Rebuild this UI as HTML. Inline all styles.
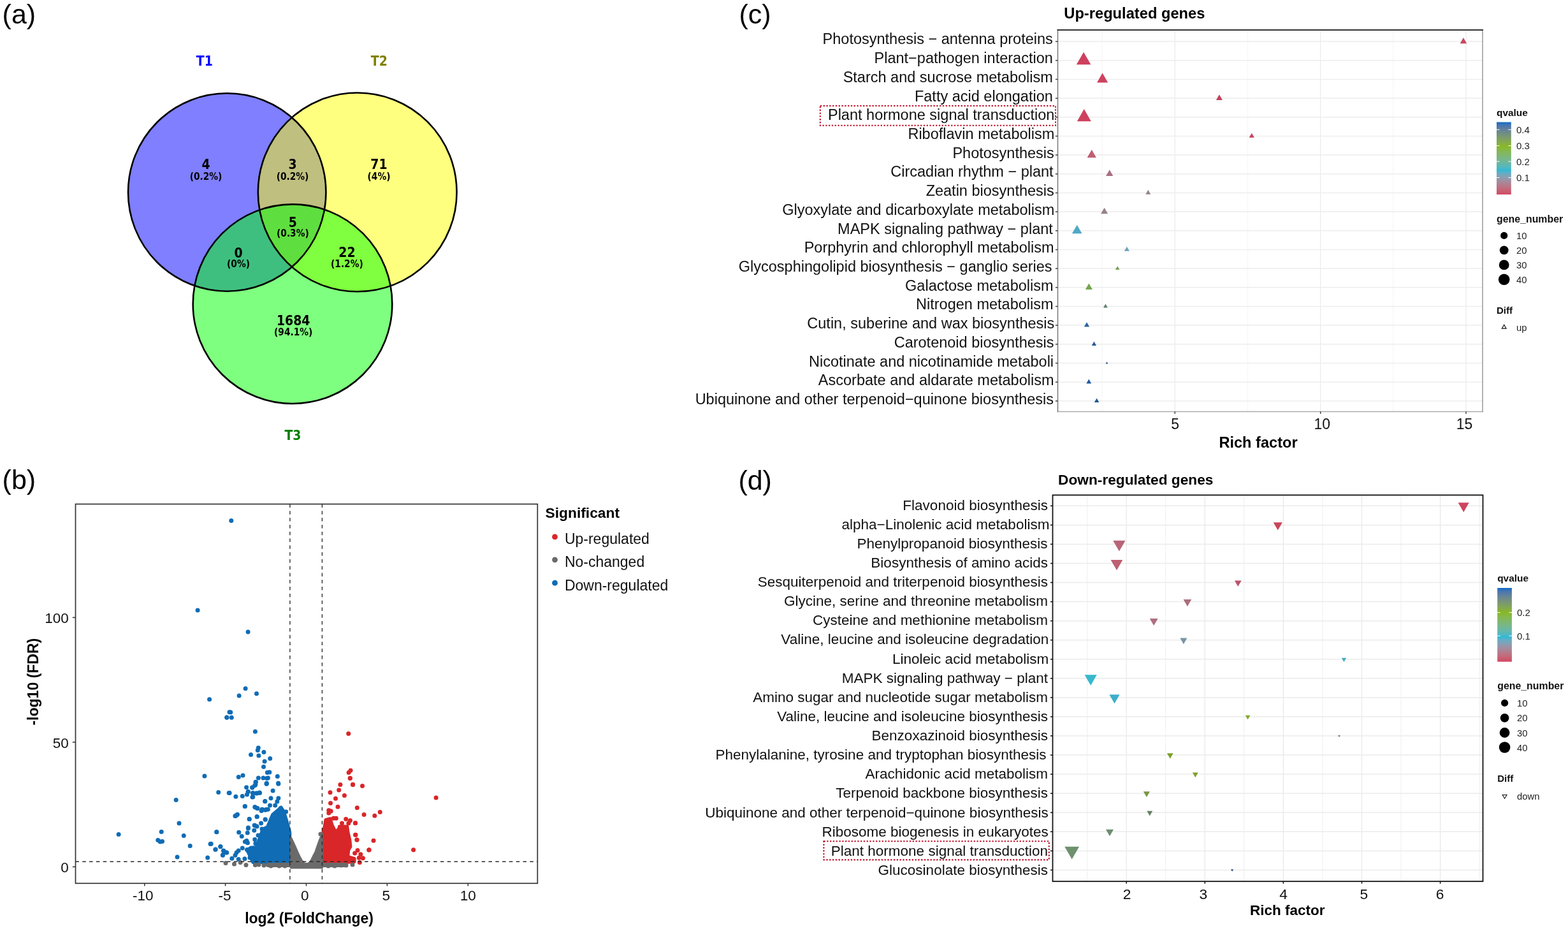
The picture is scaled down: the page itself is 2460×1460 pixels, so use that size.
<!DOCTYPE html><html><head><meta charset="utf-8"><title>Figure</title><style>html,body{margin:0;padding:0;background:#fff;overflow:hidden;width:2460px;height:1460px;}svg{display:block;}</style></head><body>
<svg width="2460" height="1460" viewBox="0 0 2460 1460">
<rect x="0" y="0" width="2460" height="1460" fill="#fff"/>
<text x="3.6" y="37.3" font-size="43" text-anchor="start" font-weight="normal" fill="#000" font-family="'Liberation Sans', Arial, Helvetica, sans-serif" >(a)</text>
<text x="3.6" y="766.9" font-size="43" text-anchor="start" font-weight="normal" fill="#000" font-family="'Liberation Sans', Arial, Helvetica, sans-serif" >(b)</text>
<text x="1159.5" y="37.3" font-size="43" text-anchor="start" font-weight="normal" fill="#000" font-family="'Liberation Sans', Arial, Helvetica, sans-serif" >(c)</text>
<text x="1158.4" y="767.8" font-size="43" text-anchor="start" font-weight="normal" fill="#000" font-family="'Liberation Sans', Arial, Helvetica, sans-serif" >(d)</text>
<circle cx="356.2" cy="301.5" r="155.2" fill="#0000ff" fill-opacity="0.5"/>
<circle cx="560.7" cy="301.4" r="155.9" fill="#ffff00" fill-opacity="0.5"/>
<circle cx="459.0" cy="476.7" r="156.3" fill="#00ff00" fill-opacity="0.5"/>
<circle cx="356.2" cy="301.5" r="155.2" fill="none" stroke="#000" stroke-width="2.6"/>
<circle cx="560.7" cy="301.4" r="155.9" fill="none" stroke="#000" stroke-width="2.6"/>
<circle cx="459.0" cy="476.7" r="156.3" fill="none" stroke="#000" stroke-width="2.6"/>
<text x="320.8" y="102.5" font-size="21" text-anchor="middle" font-weight="bold" fill="#0000ff" font-family="'DejaVu Sans Condensed', 'DejaVu Sans', sans-serif" >T1</text>
<text x="594.8" y="102.5" font-size="21" text-anchor="middle" font-weight="bold" fill="#808000" font-family="'DejaVu Sans Condensed', 'DejaVu Sans', sans-serif" >T2</text>
<text x="459.5" y="690.0" font-size="21" text-anchor="middle" font-weight="bold" fill="#008000" font-family="'DejaVu Sans Condensed', 'DejaVu Sans', sans-serif" >T3</text>
<text x="323.0" y="264.6" font-size="21" text-anchor="middle" font-weight="bold" fill="#000" font-family="'DejaVu Sans Condensed', 'DejaVu Sans', sans-serif" >4</text>
<text x="323.0" y="281.7" font-size="15.3" text-anchor="middle" font-weight="bold" fill="#000" font-family="'DejaVu Sans Condensed', 'DejaVu Sans', sans-serif" >(0.2%)</text>
<text x="459.0" y="264.6" font-size="21" text-anchor="middle" font-weight="bold" fill="#000" font-family="'DejaVu Sans Condensed', 'DejaVu Sans', sans-serif" >3</text>
<text x="459.0" y="281.7" font-size="15.3" text-anchor="middle" font-weight="bold" fill="#000" font-family="'DejaVu Sans Condensed', 'DejaVu Sans', sans-serif" >(0.2%)</text>
<text x="594.5" y="264.6" font-size="21" text-anchor="middle" font-weight="bold" fill="#000" font-family="'DejaVu Sans Condensed', 'DejaVu Sans', sans-serif" >71</text>
<text x="594.5" y="281.7" font-size="15.3" text-anchor="middle" font-weight="bold" fill="#000" font-family="'DejaVu Sans Condensed', 'DejaVu Sans', sans-serif" >(4%)</text>
<text x="459.4" y="355.9" font-size="21" text-anchor="middle" font-weight="bold" fill="#000" font-family="'DejaVu Sans Condensed', 'DejaVu Sans', sans-serif" >5</text>
<text x="459.4" y="371.4" font-size="15.3" text-anchor="middle" font-weight="bold" fill="#000" font-family="'DejaVu Sans Condensed', 'DejaVu Sans', sans-serif" >(0.3%)</text>
<text x="374.0" y="403.6" font-size="21" text-anchor="middle" font-weight="bold" fill="#000" font-family="'DejaVu Sans Condensed', 'DejaVu Sans', sans-serif" >0</text>
<text x="374.0" y="419.1" font-size="15.3" text-anchor="middle" font-weight="bold" fill="#000" font-family="'DejaVu Sans Condensed', 'DejaVu Sans', sans-serif" >(0%)</text>
<text x="544.4" y="402.9" font-size="21" text-anchor="middle" font-weight="bold" fill="#000" font-family="'DejaVu Sans Condensed', 'DejaVu Sans', sans-serif" >22</text>
<text x="544.4" y="419.0" font-size="15.3" text-anchor="middle" font-weight="bold" fill="#000" font-family="'DejaVu Sans Condensed', 'DejaVu Sans', sans-serif" >(1.2%)</text>
<text x="460.2" y="509.8" font-size="21" text-anchor="middle" font-weight="bold" fill="#000" font-family="'DejaVu Sans Condensed', 'DejaVu Sans', sans-serif" >1684</text>
<text x="460.2" y="526.3" font-size="15.3" text-anchor="middle" font-weight="bold" fill="#000" font-family="'DejaVu Sans Condensed', 'DejaVu Sans', sans-serif" >(94.1%)</text>
<rect x="118.5" y="790.5" width="724.8" height="594.8" fill="#fff"/>
<g clip-path="url(#clipb)">
<clipPath id="clipb"><rect x="118.5" y="790.5" width="724.8" height="594.8"/></clipPath>
<polygon points="396.8,1352.5 387.5,1333.0 394.0,1329.0 401.9,1328.9 408.0,1312.4 412.2,1300.1 419.4,1297.0 427.6,1277.5 440.9,1266.2 445.0,1272.0 448.1,1281.6 451.2,1291.9 454.8,1305.3 454.8,1353.0" fill="#0f6cb5" stroke="#0f6cb5" stroke-width="5" stroke-linejoin="round"/>
<g fill="#0f6cb5"><circle cx="362.8" cy="816.5" r="3.5"/><circle cx="310.1" cy="957.1" r="3.5"/><circle cx="389.1" cy="991.1" r="3.5"/><circle cx="385.1" cy="1079.8" r="3.5"/><circle cx="402.5" cy="1087.7" r="3.5"/><circle cx="375.1" cy="1091.0" r="3.5"/><circle cx="328.6" cy="1096.8" r="3.5"/><circle cx="355.8" cy="1125.1" r="3.5"/><circle cx="360.0" cy="1116.8" r="3.5"/><circle cx="320.9" cy="1217.1" r="3.5"/><circle cx="342.7" cy="1242.4" r="3.5"/><circle cx="359.2" cy="1243.4" r="3.5"/><circle cx="276.2" cy="1254.5" r="3.5"/><circle cx="281.0" cy="1291.0" r="3.5"/><circle cx="186.1" cy="1308.6" r="3.5"/><circle cx="253.2" cy="1304.4" r="3.5"/><circle cx="247.8" cy="1317.6" r="3.5"/><circle cx="254.5" cy="1319.5" r="3.5"/><circle cx="251.3" cy="1320.1" r="3.5"/><circle cx="288.3" cy="1310.5" r="3.5"/><circle cx="298.2" cy="1326.4" r="3.5"/><circle cx="339.9" cy="1304.8" r="3.5"/><circle cx="330.1" cy="1323.6" r="3.5"/><circle cx="345.8" cy="1327.8" r="3.5"/><circle cx="337.9" cy="1332.2" r="3.5"/><circle cx="351.0" cy="1334.5" r="3.5"/><circle cx="355.8" cy="1337.0" r="3.5"/><circle cx="349.4" cy="1340.8" r="3.5"/><circle cx="278.1" cy="1344.1" r="3.5"/><circle cx="325.7" cy="1345.0" r="3.5"/><circle cx="361.8" cy="1117.1" r="3.5"/><circle cx="355.9" cy="1125.2" r="3.5"/><circle cx="363.3" cy="1125.2" r="3.5"/><circle cx="400.4" cy="1147.2" r="3.5"/><circle cx="405.3" cy="1172.8" r="3.5"/><circle cx="404.3" cy="1176.6" r="3.5"/><circle cx="413.9" cy="1179.5" r="3.5"/><circle cx="393.6" cy="1183.5" r="3.5"/><circle cx="405.9" cy="1185.0" r="3.5"/><circle cx="423.7" cy="1189.5" r="3.5"/><circle cx="415.1" cy="1193.9" r="3.5"/><circle cx="413.5" cy="1202.6" r="3.5"/><circle cx="422.8" cy="1210.9" r="3.5"/><circle cx="381.0" cy="1215.9" r="3.5"/><circle cx="374.3" cy="1218.4" r="3.5"/><circle cx="405.4" cy="1220.0" r="3.5"/><circle cx="413.0" cy="1220.0" r="3.5"/><circle cx="420.4" cy="1220.0" r="3.5"/><circle cx="435.3" cy="1217.5" r="3.5"/><circle cx="401.0" cy="1226.4" r="3.5"/><circle cx="418.4" cy="1228.2" r="3.5"/><circle cx="436.6" cy="1228.2" r="3.5"/><circle cx="419.4" cy="1211.5" r="3.5"/><circle cx="418.7" cy="1220.4" r="3.5"/><circle cx="418.0" cy="1229.1" r="3.5"/><circle cx="399.8" cy="1231.7" r="3.5"/><circle cx="395.9" cy="1234.9" r="3.5"/><circle cx="386.6" cy="1234.7" r="3.5"/><circle cx="389.4" cy="1241.4" r="3.5"/><circle cx="387.5" cy="1246.0" r="3.5"/><circle cx="360.1" cy="1243.4" r="3.5"/><circle cx="396.6" cy="1243.4" r="3.5"/><circle cx="403.1" cy="1244.0" r="3.5"/><circle cx="407.6" cy="1243.4" r="3.5"/><circle cx="369.9" cy="1249.3" r="3.5"/><circle cx="380.3" cy="1248.6" r="3.5"/><circle cx="395.9" cy="1249.9" r="3.5"/><circle cx="415.8" cy="1256.8" r="3.5"/><circle cx="384.2" cy="1264.6" r="3.5"/><circle cx="399.8" cy="1265.5" r="3.5"/><circle cx="403.7" cy="1267.5" r="3.5"/><circle cx="411.5" cy="1269.4" r="3.5"/><circle cx="417.4" cy="1269.4" r="3.5"/><circle cx="410.2" cy="1271.4" r="3.5"/><circle cx="372.5" cy="1277.2" r="3.5"/><circle cx="369.3" cy="1279.8" r="3.5"/><circle cx="403.1" cy="1280.7" r="3.5"/><circle cx="391.1" cy="1284.4" r="3.5"/><circle cx="416.1" cy="1285.0" r="3.5"/><circle cx="409.6" cy="1290.9" r="3.5"/><circle cx="399.2" cy="1294.2" r="3.5"/><circle cx="403.1" cy="1296.1" r="3.5"/><circle cx="389.4" cy="1298.0" r="3.5"/><circle cx="395.7" cy="1234.9" r="3.5"/><circle cx="400.9" cy="1230.3" r="3.5"/><circle cx="401.4" cy="1226.2" r="3.5"/><circle cx="389.1" cy="1241.6" r="3.5"/><circle cx="396.8" cy="1244.1" r="3.5"/><circle cx="396.8" cy="1249.8" r="3.5"/><circle cx="401.9" cy="1244.1" r="3.5"/><circle cx="407.0" cy="1243.1" r="3.5"/><circle cx="418.3" cy="1229.2" r="3.5"/><circle cx="436.8" cy="1229.2" r="3.5"/><circle cx="428.1" cy="1240.0" r="3.5"/><circle cx="425.0" cy="1251.8" r="3.5"/><circle cx="415.8" cy="1256.5" r="3.5"/><circle cx="436.8" cy="1251.8" r="3.5"/><circle cx="434.8" cy="1257.0" r="3.5"/><circle cx="431.7" cy="1263.1" r="3.5"/><circle cx="423.5" cy="1263.1" r="3.5"/><circle cx="384.4" cy="1264.4" r="3.5"/><circle cx="400.9" cy="1266.2" r="3.5"/><circle cx="404.0" cy="1267.8" r="3.5"/><circle cx="411.1" cy="1269.3" r="3.5"/><circle cx="416.3" cy="1270.3" r="3.5"/><circle cx="420.4" cy="1269.3" r="3.5"/><circle cx="440.4" cy="1267.2" r="3.5"/><circle cx="448.6" cy="1272.9" r="3.5"/><circle cx="371.6" cy="1278.0" r="3.5"/><circle cx="369.0" cy="1279.6" r="3.5"/><circle cx="391.3" cy="1284.5" r="3.5"/><circle cx="403.2" cy="1280.8" r="3.5"/><circle cx="416.3" cy="1285.2" r="3.5"/><circle cx="399.8" cy="1294.5" r="3.5"/><circle cx="398.8" cy="1302.2" r="3.5"/><circle cx="389.4" cy="1299.1" r="3.5"/><circle cx="388.3" cy="1306.1" r="3.5"/><circle cx="339.8" cy="1304.7" r="3.5"/><circle cx="374.7" cy="1305.3" r="3.5"/><circle cx="379.3" cy="1311.4" r="3.5"/><circle cx="387.0" cy="1318.6" r="3.5"/><circle cx="388.5" cy="1321.7" r="3.5"/><circle cx="384.4" cy="1320.1" r="3.5"/><circle cx="399.8" cy="1316.5" r="3.5"/><circle cx="400.9" cy="1322.7" r="3.5"/><circle cx="331.2" cy="1323.2" r="3.5"/><circle cx="345.9" cy="1327.6" r="3.5"/><circle cx="338.2" cy="1332.0" r="3.5"/><circle cx="350.5" cy="1334.0" r="3.5"/><circle cx="354.7" cy="1337.1" r="3.5"/><circle cx="349.5" cy="1341.2" r="3.5"/><circle cx="380.3" cy="1329.9" r="3.5"/><circle cx="374.2" cy="1334.0" r="3.5"/><circle cx="371.1" cy="1337.1" r="3.5"/><circle cx="369.0" cy="1341.2" r="3.5"/><circle cx="387.5" cy="1332.5" r="3.5"/><circle cx="391.6" cy="1338.1" r="3.5"/><circle cx="395.7" cy="1343.3" r="3.5"/><circle cx="363.9" cy="1346.3" r="3.5"/><circle cx="374.2" cy="1347.4" r="3.5"/><circle cx="383.9" cy="1346.8" r="3.5"/><circle cx="411.0" cy="1300.0" r="3.5"/><circle cx="405.0" cy="1310.0" r="3.5"/><circle cx="398.0" cy="1330.0" r="3.5"/><circle cx="392.0" cy="1345.0" r="3.5"/><circle cx="403.0" cy="1348.0" r="3.5"/><circle cx="415.0" cy="1305.0" r="3.5"/><circle cx="430.0" cy="1280.0" r="3.5"/><circle cx="438.0" cy="1272.0" r="3.5"/><circle cx="445.0" cy="1278.0" r="3.5"/><circle cx="448.0" cy="1290.0" r="3.5"/></g>
<polygon points="505.7,1352.5 505.7,1310.4 508.8,1298.1 510.9,1285.7 518.1,1283.7 521.1,1294.0 525.3,1302.2 527.3,1305.3 532.4,1298.1 532.4,1296.0 544.8,1296.0 545.8,1304.2 548.9,1317.6 549.9,1327.8 546.8,1333.0 545.8,1343.3 556.1,1346.3 556.1,1351.5 542.7,1352.5" fill="#d92629" stroke="#d92629" stroke-width="5" stroke-linejoin="round"/>
<g fill="#d92629"><circle cx="546.7" cy="1150.5" r="3.5"/><circle cx="550.0" cy="1208.2" r="3.5"/><circle cx="547.1" cy="1211.6" r="3.5"/><circle cx="549.3" cy="1220.2" r="3.5"/><circle cx="533.9" cy="1230.4" r="3.5"/><circle cx="553.6" cy="1230.4" r="3.5"/><circle cx="568.5" cy="1232.5" r="3.5"/><circle cx="518.0" cy="1242.8" r="3.5"/><circle cx="531.7" cy="1239.0" r="3.5"/><circle cx="540.4" cy="1247.6" r="3.5"/><circle cx="526.5" cy="1252.2" r="3.5"/><circle cx="518.5" cy="1259.6" r="3.5"/><circle cx="530.0" cy="1265.2" r="3.5"/><circle cx="560.3" cy="1266.7" r="3.5"/><circle cx="515.8" cy="1270.7" r="3.5"/><circle cx="519.2" cy="1272.0" r="3.5"/><circle cx="515.8" cy="1275.0" r="3.5"/><circle cx="571.1" cy="1277.5" r="3.5"/><circle cx="587.8" cy="1279.2" r="3.5"/><circle cx="596.2" cy="1273.6" r="3.5"/><circle cx="684.1" cy="1251.0" r="3.5"/><circle cx="648.6" cy="1332.8" r="3.5"/><circle cx="586.0" cy="1318.3" r="3.5"/><circle cx="579.1" cy="1332.8" r="3.5"/><circle cx="557.9" cy="1309.2" r="3.5"/><circle cx="559.9" cy="1316.9" r="3.5"/><circle cx="557.5" cy="1290.7" r="3.5"/><circle cx="523.2" cy="1283.2" r="3.5"/><circle cx="527.3" cy="1283.2" r="3.5"/><circle cx="542.7" cy="1284.5" r="3.5"/><circle cx="549.4" cy="1286.8" r="3.5"/><circle cx="536.5" cy="1290.9" r="3.5"/><circle cx="546.8" cy="1290.9" r="3.5"/><circle cx="557.4" cy="1290.7" r="3.5"/><circle cx="557.6" cy="1309.2" r="3.5"/><circle cx="560.0" cy="1317.1" r="3.5"/><circle cx="578.7" cy="1333.0" r="3.5"/><circle cx="561.0" cy="1333.5" r="3.5"/><circle cx="556.6" cy="1338.1" r="3.5"/><circle cx="565.8" cy="1339.7" r="3.5"/><circle cx="569.4" cy="1345.8" r="3.5"/><circle cx="563.3" cy="1345.3" r="3.5"/><circle cx="564.3" cy="1352.5" r="3.5"/><circle cx="550.9" cy="1346.8" r="3.5"/><circle cx="549.2" cy="1220.5" r="3.5"/><circle cx="553.5" cy="1230.3" r="3.5"/></g>
<polygon points="455.3,1311.0 458.0,1314.0 461.1,1320.6 464.5,1328.0 467.7,1335.4 471.0,1342.5 474.3,1348.6 477.5,1352.5 480.8,1354.8 484.0,1352.5 487.3,1348.6 490.5,1342.0 493.9,1335.4 496.8,1327.0 499.6,1319.1 502.5,1311.5 505.4,1306.7 506.5,1306.7 506.5,1362.0 455.3,1362.0" fill="#6a6a6a" stroke="#6a6a6a" stroke-width="0.8" stroke-linejoin="round"/>
<rect x="417" y="1353" width="128" height="7" rx="3.5" fill="#6a6a6a"/>
<g fill="#6a6a6a"><circle cx="354.1" cy="1353.5" r="3.5"/><circle cx="367.5" cy="1355.1" r="3.5"/><circle cx="377.2" cy="1352.5" r="3.5"/><circle cx="386.0" cy="1356.6" r="3.5"/><circle cx="400.4" cy="1356.6" r="3.5"/><circle cx="406.0" cy="1356.1" r="3.5"/><circle cx="553.0" cy="1356.1" r="3.5"/><circle cx="414.0" cy="1357.0" r="3.5"/><circle cx="425.0" cy="1358.0" r="3.5"/><circle cx="438.0" cy="1358.0" r="3.5"/><circle cx="447.0" cy="1358.0" r="3.5"/><circle cx="515.0" cy="1358.0" r="3.5"/><circle cx="525.0" cy="1358.0" r="3.5"/><circle cx="535.0" cy="1357.0" r="3.5"/><circle cx="543.0" cy="1357.0" r="3.5"/><circle cx="503.0" cy="1308.0" r="3.5"/></g>
<line x1="454.9" y1="790.5" x2="454.9" y2="1385.3" stroke="#2a2a2a" stroke-width="1.4" stroke-dasharray="5.5 5.3"/>
<line x1="505.4" y1="790.5" x2="505.4" y2="1385.3" stroke="#2a2a2a" stroke-width="1.4" stroke-dasharray="5.5 5.3"/>
<line x1="118.5" y1="1351.3" x2="843.3" y2="1351.3" stroke="#2a2a2a" stroke-width="1.4" stroke-dasharray="5.5 5.3"/>
</g>
<rect x="118.5" y="790.5" width="724.8" height="594.8" fill="none" stroke="#333" stroke-width="1.7"/>
<line x1="226.8" y1="1385.3" x2="226.8" y2="1389.5" stroke="#333" stroke-width="1.5"/>
<text x="224.2" y="1411.5" font-size="22.5" text-anchor="middle" font-weight="normal" fill="#111" font-family="'Liberation Sans', Arial, Helvetica, sans-serif" >-10</text>
<line x1="353.6" y1="1385.3" x2="353.6" y2="1389.5" stroke="#333" stroke-width="1.5"/>
<text x="352.6" y="1411.5" font-size="22.5" text-anchor="middle" font-weight="normal" fill="#111" font-family="'Liberation Sans', Arial, Helvetica, sans-serif" >-5</text>
<line x1="480.5" y1="1385.3" x2="480.5" y2="1389.5" stroke="#333" stroke-width="1.5"/>
<text x="478.2" y="1411.5" font-size="22.5" text-anchor="middle" font-weight="normal" fill="#111" font-family="'Liberation Sans', Arial, Helvetica, sans-serif" >0</text>
<line x1="607.4" y1="1385.3" x2="607.4" y2="1389.5" stroke="#333" stroke-width="1.5"/>
<text x="605.8" y="1411.5" font-size="22.5" text-anchor="middle" font-weight="normal" fill="#111" font-family="'Liberation Sans', Arial, Helvetica, sans-serif" >5</text>
<line x1="734.2" y1="1385.3" x2="734.2" y2="1389.5" stroke="#333" stroke-width="1.5"/>
<text x="734.2" y="1411.5" font-size="22.5" text-anchor="middle" font-weight="normal" fill="#111" font-family="'Liberation Sans', Arial, Helvetica, sans-serif" >10</text>
<line x1="113.8" y1="1359.4" x2="118.5" y2="1359.4" stroke="#333" stroke-width="1.5"/>
<text x="107.7" y="1368.4" font-size="22.5" text-anchor="end" font-weight="normal" fill="#111" font-family="'Liberation Sans', Arial, Helvetica, sans-serif" >0</text>
<line x1="113.8" y1="1163.9" x2="118.5" y2="1163.9" stroke="#333" stroke-width="1.5"/>
<text x="107.7" y="1172.9" font-size="22.5" text-anchor="end" font-weight="normal" fill="#111" font-family="'Liberation Sans', Arial, Helvetica, sans-serif" >50</text>
<line x1="113.8" y1="968.4" x2="118.5" y2="968.4" stroke="#333" stroke-width="1.5"/>
<text x="107.7" y="977.4" font-size="22.5" text-anchor="end" font-weight="normal" fill="#111" font-family="'Liberation Sans', Arial, Helvetica, sans-serif" >100</text>
<text x="485.1" y="1447.7" font-size="23" text-anchor="middle" font-weight="bold" fill="#000" font-family="'Liberation Sans', Arial, Helvetica, sans-serif" >log2 (FoldChange)</text>
<text x="0" y="0" font-size="23" font-weight="bold" text-anchor="middle" font-family="'Liberation Sans', Arial, Helvetica, sans-serif" transform="translate(59.6 1069.2) rotate(-90)">-log10 (FDR)</text>
<text x="855.5" y="812.3" font-size="22.8" text-anchor="start" font-weight="bold" fill="#000" font-family="'Liberation Sans', Arial, Helvetica, sans-serif" >Significant</text>
<circle cx="870.5" cy="841.9" r="4.4" fill="#d92629"/>
<text x="885.9" y="853.4" font-size="23" text-anchor="start" font-weight="normal" fill="#111" font-family="'Liberation Sans', Arial, Helvetica, sans-serif" >Up-regulated</text>
<circle cx="870.5" cy="877.8" r="4.4" fill="#6a6a6a"/>
<text x="885.9" y="889.0" font-size="23" text-anchor="start" font-weight="normal" fill="#111" font-family="'Liberation Sans', Arial, Helvetica, sans-serif" >No-changed</text>
<circle cx="870.5" cy="914.2" r="4.4" fill="#0f6cb5"/>
<text x="885.9" y="925.7" font-size="23" text-anchor="start" font-weight="normal" fill="#111" font-family="'Liberation Sans', Arial, Helvetica, sans-serif" >Down-regulated</text>
<rect x="1659.5" y="47" width="666.5" height="598.4" fill="#fff"/>
<line x1="1729.1" y1="47" x2="1729.1" y2="645.4" stroke="#f3f3f3" stroke-width="0.9"/>
<line x1="1957.5" y1="47" x2="1957.5" y2="645.4" stroke="#f3f3f3" stroke-width="0.9"/>
<line x1="2185.8" y1="47" x2="2185.8" y2="645.4" stroke="#f3f3f3" stroke-width="0.9"/>
<line x1="1843.3" y1="47" x2="1843.3" y2="645.4" stroke="#e9e9e9" stroke-width="1.1"/>
<line x1="2071.7" y1="47" x2="2071.7" y2="645.4" stroke="#e9e9e9" stroke-width="1.1"/>
<line x1="2300.0" y1="47" x2="2300.0" y2="645.4" stroke="#e9e9e9" stroke-width="1.1"/>
<line x1="1659.5" y1="65.1" x2="2326" y2="65.1" stroke="#ededed" stroke-width="1.5"/>
<line x1="1659.5" y1="94.8" x2="2326" y2="94.8" stroke="#ededed" stroke-width="1.5"/>
<line x1="1659.5" y1="124.4" x2="2326" y2="124.4" stroke="#ededed" stroke-width="1.5"/>
<line x1="1659.5" y1="154.1" x2="2326" y2="154.1" stroke="#ededed" stroke-width="1.5"/>
<line x1="1659.5" y1="183.8" x2="2326" y2="183.8" stroke="#ededed" stroke-width="1.5"/>
<line x1="1659.5" y1="213.5" x2="2326" y2="213.5" stroke="#ededed" stroke-width="1.5"/>
<line x1="1659.5" y1="243.1" x2="2326" y2="243.1" stroke="#ededed" stroke-width="1.5"/>
<line x1="1659.5" y1="272.8" x2="2326" y2="272.8" stroke="#ededed" stroke-width="1.5"/>
<line x1="1659.5" y1="302.5" x2="2326" y2="302.5" stroke="#ededed" stroke-width="1.5"/>
<line x1="1659.5" y1="332.1" x2="2326" y2="332.1" stroke="#ededed" stroke-width="1.5"/>
<line x1="1659.5" y1="361.8" x2="2326" y2="361.8" stroke="#ededed" stroke-width="1.5"/>
<line x1="1659.5" y1="391.5" x2="2326" y2="391.5" stroke="#ededed" stroke-width="1.5"/>
<line x1="1659.5" y1="421.1" x2="2326" y2="421.1" stroke="#ededed" stroke-width="1.5"/>
<line x1="1659.5" y1="450.8" x2="2326" y2="450.8" stroke="#ededed" stroke-width="1.5"/>
<line x1="1659.5" y1="480.5" x2="2326" y2="480.5" stroke="#ededed" stroke-width="1.5"/>
<line x1="1659.5" y1="510.1" x2="2326" y2="510.1" stroke="#ededed" stroke-width="1.5"/>
<line x1="1659.5" y1="539.8" x2="2326" y2="539.8" stroke="#ededed" stroke-width="1.5"/>
<line x1="1659.5" y1="569.5" x2="2326" y2="569.5" stroke="#ededed" stroke-width="1.5"/>
<line x1="1659.5" y1="599.2" x2="2326" y2="599.2" stroke="#ededed" stroke-width="1.5"/>
<line x1="1659.5" y1="628.8" x2="2326" y2="628.8" stroke="#ededed" stroke-width="1.5"/>
<polygon points="2295.90,59.04 2301.15,68.13 2290.65,68.13" fill="rgb(200, 70, 95)"/>
<polygon points="1700.10,81.72 1711.40,101.29 1688.80,101.29" fill="rgb(205, 65, 95)"/>
<polygon points="1729.60,114.57 1738.15,129.38 1721.05,129.38" fill="rgb(205, 65, 95)"/>
<polygon points="1912.90,148.34 1917.90,157.00 1907.90,157.00" fill="rgb(195, 65, 90)"/>
<polygon points="1700.80,171.08 1711.80,190.13 1689.80,190.13" fill="rgb(205, 65, 95)"/>
<polygon points="1963.80,208.72 1967.90,215.82 1959.70,215.82" fill="rgb(200, 65, 95)"/>
<polygon points="1712.80,234.81 1720.00,247.28 1705.60,247.28" fill="rgb(190, 95, 115)"/>
<polygon points="1740.70,266.27 1746.35,276.05 1735.05,276.05" fill="rgb(170, 110, 130)"/>
<polygon points="1801.30,297.84 1805.30,304.77 1797.30,304.77" fill="rgb(150, 130, 140)"/>
<polygon points="1732.60,325.72 1738.15,335.33 1727.05,335.33" fill="rgb(150, 130, 140)"/>
<polygon points="1689.70,352.74 1697.55,366.33 1681.85,366.33" fill="rgb(80, 168, 200)"/>
<polygon points="1767.90,386.85 1771.90,393.78 1763.90,393.78" fill="rgb(110, 160, 190)"/>
<polygon points="1753.20,417.27 1756.55,423.07 1749.85,423.07" fill="rgb(120, 160, 90)"/>
<polygon points="1708.40,444.40 1713.95,454.01 1702.85,454.01" fill="rgb(115, 165, 75)"/>
<polygon points="1734.40,476.61 1737.75,482.41 1731.05,482.41" fill="rgb(95, 130, 110)"/>
<polygon points="1705.00,505.36 1709.15,512.55 1700.85,512.55" fill="rgb(40, 100, 160)"/>
<polygon points="1716.40,535.61 1720.05,541.93 1712.75,541.93" fill="rgb(40, 90, 150)"/>
<polygon points="1736.50,567.30 1738.40,570.59 1734.60,570.59" fill="rgb(40, 80, 130)"/>
<polygon points="1708.30,594.60 1712.25,601.44 1704.35,601.44" fill="rgb(30, 90, 160)"/>
<polygon points="1720.60,624.50 1724.35,631.00 1716.85,631.00" fill="rgb(30, 90, 150)"/>
<line x1="1659.5" y1="645.4" x2="2326" y2="645.4" stroke="#aaa" stroke-width="1.5" stroke-linecap="square"/>
<line x1="2326" y1="47" x2="2326" y2="645.4" stroke="#999" stroke-width="1.5" stroke-linecap="square"/>
<line x1="1659.5" y1="47" x2="1659.5" y2="645.4" stroke="#777" stroke-width="1.5" stroke-linecap="square"/>
<line x1="1659.5" y1="47" x2="2326" y2="47" stroke="#333" stroke-width="2.0" stroke-linecap="square"/>
<line x1="1655.9" y1="65.1" x2="1659.5" y2="65.1" stroke="#444" stroke-width="1.5"/>
<text x="1651.8" y="69.3" font-size="23.5" text-anchor="end" font-weight="normal" fill="#111" font-family="'Liberation Sans', Arial, Helvetica, sans-serif" >Photosynthesis − antenna proteins</text>
<line x1="1655.9" y1="94.8" x2="1659.5" y2="94.8" stroke="#444" stroke-width="1.5"/>
<text x="1651.8" y="99.0" font-size="23.5" text-anchor="end" font-weight="normal" fill="#111" font-family="'Liberation Sans', Arial, Helvetica, sans-serif" >Plant−pathogen interaction</text>
<line x1="1655.9" y1="124.4" x2="1659.5" y2="124.4" stroke="#444" stroke-width="1.5"/>
<text x="1651.8" y="128.7" font-size="23.5" text-anchor="end" font-weight="normal" fill="#111" font-family="'Liberation Sans', Arial, Helvetica, sans-serif" >Starch and sucrose metabolism</text>
<line x1="1655.9" y1="154.1" x2="1659.5" y2="154.1" stroke="#444" stroke-width="1.5"/>
<text x="1651.8" y="158.5" font-size="23.5" text-anchor="end" font-weight="normal" fill="#111" font-family="'Liberation Sans', Arial, Helvetica, sans-serif" >Fatty acid elongation</text>
<line x1="1655.9" y1="183.8" x2="1659.5" y2="183.8" stroke="#444" stroke-width="1.5"/>
<text x="1654.3" y="188.2" font-size="23.5" text-anchor="end" font-weight="normal" fill="#111" font-family="'Liberation Sans', Arial, Helvetica, sans-serif" >Plant hormone signal transduction</text>
<line x1="1655.9" y1="213.5" x2="1659.5" y2="213.5" stroke="#444" stroke-width="1.5"/>
<text x="1654.3" y="217.9" font-size="23.5" text-anchor="end" font-weight="normal" fill="#111" font-family="'Liberation Sans', Arial, Helvetica, sans-serif" >Riboflavin metabolism</text>
<line x1="1655.9" y1="243.1" x2="1659.5" y2="243.1" stroke="#444" stroke-width="1.5"/>
<text x="1653.8" y="247.6" font-size="23.5" text-anchor="end" font-weight="normal" fill="#111" font-family="'Liberation Sans', Arial, Helvetica, sans-serif" >Photosynthesis</text>
<line x1="1655.9" y1="272.8" x2="1659.5" y2="272.8" stroke="#444" stroke-width="1.5"/>
<text x="1652.6" y="277.3" font-size="23.5" text-anchor="end" font-weight="normal" fill="#111" font-family="'Liberation Sans', Arial, Helvetica, sans-serif" >Circadian rhythm − plant</text>
<line x1="1655.9" y1="302.5" x2="1659.5" y2="302.5" stroke="#444" stroke-width="1.5"/>
<text x="1653.8" y="307.0" font-size="23.5" text-anchor="end" font-weight="normal" fill="#111" font-family="'Liberation Sans', Arial, Helvetica, sans-serif" >Zeatin biosynthesis</text>
<line x1="1655.9" y1="332.1" x2="1659.5" y2="332.1" stroke="#444" stroke-width="1.5"/>
<text x="1654.3" y="336.8" font-size="23.5" text-anchor="end" font-weight="normal" fill="#111" font-family="'Liberation Sans', Arial, Helvetica, sans-serif" >Glyoxylate and dicarboxylate metabolism</text>
<line x1="1655.9" y1="361.8" x2="1659.5" y2="361.8" stroke="#444" stroke-width="1.5"/>
<text x="1651.8" y="366.5" font-size="23.5" text-anchor="end" font-weight="normal" fill="#111" font-family="'Liberation Sans', Arial, Helvetica, sans-serif" >MAPK signaling pathway − plant</text>
<line x1="1655.9" y1="391.5" x2="1659.5" y2="391.5" stroke="#444" stroke-width="1.5"/>
<text x="1653.5" y="396.2" font-size="23.5" text-anchor="end" font-weight="normal" fill="#111" font-family="'Liberation Sans', Arial, Helvetica, sans-serif" >Porphyrin and chlorophyll metabolism</text>
<line x1="1655.9" y1="421.1" x2="1659.5" y2="421.1" stroke="#444" stroke-width="1.5"/>
<text x="1650.6" y="425.9" font-size="23.5" text-anchor="end" font-weight="normal" fill="#111" font-family="'Liberation Sans', Arial, Helvetica, sans-serif" >Glycosphingolipid biosynthesis − ganglio series</text>
<line x1="1655.9" y1="450.8" x2="1659.5" y2="450.8" stroke="#444" stroke-width="1.5"/>
<text x="1652.6" y="455.6" font-size="23.5" text-anchor="end" font-weight="normal" fill="#111" font-family="'Liberation Sans', Arial, Helvetica, sans-serif" >Galactose metabolism</text>
<line x1="1655.9" y1="480.5" x2="1659.5" y2="480.5" stroke="#444" stroke-width="1.5"/>
<text x="1652.6" y="485.3" font-size="23.5" text-anchor="end" font-weight="normal" fill="#111" font-family="'Liberation Sans', Arial, Helvetica, sans-serif" >Nitrogen metabolism</text>
<line x1="1655.9" y1="510.1" x2="1659.5" y2="510.1" stroke="#444" stroke-width="1.5"/>
<text x="1654.3" y="515.1" font-size="23.5" text-anchor="end" font-weight="normal" fill="#111" font-family="'Liberation Sans', Arial, Helvetica, sans-serif" >Cutin, suberine and wax biosynthesis</text>
<line x1="1655.9" y1="539.8" x2="1659.5" y2="539.8" stroke="#444" stroke-width="1.5"/>
<text x="1653.5" y="544.8" font-size="23.5" text-anchor="end" font-weight="normal" fill="#111" font-family="'Liberation Sans', Arial, Helvetica, sans-serif" >Carotenoid biosynthesis</text>
<line x1="1655.9" y1="569.5" x2="1659.5" y2="569.5" stroke="#444" stroke-width="1.5"/>
<text x="1653.1" y="574.5" font-size="23.5" text-anchor="end" font-weight="normal" fill="#111" font-family="'Liberation Sans', Arial, Helvetica, sans-serif" >Nicotinate and nicotinamide metaboli</text>
<line x1="1655.9" y1="599.2" x2="1659.5" y2="599.2" stroke="#444" stroke-width="1.5"/>
<text x="1653.5" y="604.2" font-size="23.5" text-anchor="end" font-weight="normal" fill="#111" font-family="'Liberation Sans', Arial, Helvetica, sans-serif" >Ascorbate and aldarate metabolism</text>
<line x1="1655.9" y1="628.8" x2="1659.5" y2="628.8" stroke="#444" stroke-width="1.5"/>
<text x="1653.1" y="633.9" font-size="23.5" text-anchor="end" font-weight="normal" fill="#111" font-family="'Liberation Sans', Arial, Helvetica, sans-serif" >Ubiquinone and other terpenoid−quinone biosynthesis</text>
<line x1="1843.3" y1="645.4" x2="1843.3" y2="649.0" stroke="#444" stroke-width="1.5"/>
<text x="1843.6" y="672.8" font-size="23" text-anchor="middle" font-weight="normal" fill="#111" font-family="'Liberation Sans', Arial, Helvetica, sans-serif" >5</text>
<line x1="2071.7" y1="645.4" x2="2071.7" y2="649.0" stroke="#444" stroke-width="1.5"/>
<text x="2074.3" y="672.8" font-size="23" text-anchor="middle" font-weight="normal" fill="#111" font-family="'Liberation Sans', Arial, Helvetica, sans-serif" >10</text>
<line x1="2300.0" y1="645.4" x2="2300.0" y2="649.0" stroke="#444" stroke-width="1.5"/>
<text x="2297.6" y="672.8" font-size="23" text-anchor="middle" font-weight="normal" fill="#111" font-family="'Liberation Sans', Arial, Helvetica, sans-serif" >15</text>
<text x="1669.3" y="28.6" font-size="23.7" text-anchor="start" font-weight="bold" fill="#000" font-family="'Liberation Sans', Arial, Helvetica, sans-serif" >Up-regulated genes</text>
<text x="1912.4" y="701.7" font-size="23.6" text-anchor="start" font-weight="bold" fill="#000" font-family="'Liberation Sans', Arial, Helvetica, sans-serif" >Rich factor</text>
<rect x="1286.8" y="166.0" width="369.20000000000005" height="30.80000000000001" fill="none" stroke="#c0102a" stroke-width="2.1" stroke-dasharray="2.4 2.4"/>
<rect x="1651.5" y="776.4" width="675.0" height="605.8000000000001" fill="#fff"/>
<line x1="1705.7" y1="776.4" x2="1705.7" y2="1382.2" stroke="#ececec" stroke-width="0.9"/>
<line x1="1828.8" y1="776.4" x2="1828.8" y2="1382.2" stroke="#ececec" stroke-width="0.9"/>
<line x1="1951.8" y1="776.4" x2="1951.8" y2="1382.2" stroke="#ececec" stroke-width="0.9"/>
<line x1="2074.9" y1="776.4" x2="2074.9" y2="1382.2" stroke="#ececec" stroke-width="0.9"/>
<line x1="2198.1" y1="776.4" x2="2198.1" y2="1382.2" stroke="#ececec" stroke-width="0.9"/>
<line x1="2321.2" y1="776.4" x2="2321.2" y2="1382.2" stroke="#ececec" stroke-width="0.9"/>
<line x1="1767.2" y1="776.4" x2="1767.2" y2="1382.2" stroke="#e6e6e6" stroke-width="1.1"/>
<line x1="1890.3" y1="776.4" x2="1890.3" y2="1382.2" stroke="#e6e6e6" stroke-width="1.1"/>
<line x1="2013.4" y1="776.4" x2="2013.4" y2="1382.2" stroke="#e6e6e6" stroke-width="1.1"/>
<line x1="2136.5" y1="776.4" x2="2136.5" y2="1382.2" stroke="#e6e6e6" stroke-width="1.1"/>
<line x1="2259.6" y1="776.4" x2="2259.6" y2="1382.2" stroke="#e6e6e6" stroke-width="1.1"/>
<line x1="1651.5" y1="793.3" x2="2326.5" y2="793.3" stroke="#ebebeb" stroke-width="1.5"/>
<line x1="1651.5" y1="823.4" x2="2326.5" y2="823.4" stroke="#ebebeb" stroke-width="1.5"/>
<line x1="1651.5" y1="853.4" x2="2326.5" y2="853.4" stroke="#ebebeb" stroke-width="1.5"/>
<line x1="1651.5" y1="883.5" x2="2326.5" y2="883.5" stroke="#ebebeb" stroke-width="1.5"/>
<line x1="1651.5" y1="913.5" x2="2326.5" y2="913.5" stroke="#ebebeb" stroke-width="1.5"/>
<line x1="1651.5" y1="943.6" x2="2326.5" y2="943.6" stroke="#ebebeb" stroke-width="1.5"/>
<line x1="1651.5" y1="973.7" x2="2326.5" y2="973.7" stroke="#ebebeb" stroke-width="1.5"/>
<line x1="1651.5" y1="1003.7" x2="2326.5" y2="1003.7" stroke="#ebebeb" stroke-width="1.5"/>
<line x1="1651.5" y1="1033.8" x2="2326.5" y2="1033.8" stroke="#ebebeb" stroke-width="1.5"/>
<line x1="1651.5" y1="1063.8" x2="2326.5" y2="1063.8" stroke="#ebebeb" stroke-width="1.5"/>
<line x1="1651.5" y1="1093.9" x2="2326.5" y2="1093.9" stroke="#ebebeb" stroke-width="1.5"/>
<line x1="1651.5" y1="1124.0" x2="2326.5" y2="1124.0" stroke="#ebebeb" stroke-width="1.5"/>
<line x1="1651.5" y1="1154.0" x2="2326.5" y2="1154.0" stroke="#ebebeb" stroke-width="1.5"/>
<line x1="1651.5" y1="1184.1" x2="2326.5" y2="1184.1" stroke="#ebebeb" stroke-width="1.5"/>
<line x1="1651.5" y1="1214.1" x2="2326.5" y2="1214.1" stroke="#ebebeb" stroke-width="1.5"/>
<line x1="1651.5" y1="1244.2" x2="2326.5" y2="1244.2" stroke="#ebebeb" stroke-width="1.5"/>
<line x1="1651.5" y1="1274.3" x2="2326.5" y2="1274.3" stroke="#ebebeb" stroke-width="1.5"/>
<line x1="1651.5" y1="1304.3" x2="2326.5" y2="1304.3" stroke="#ebebeb" stroke-width="1.5"/>
<line x1="1651.5" y1="1334.4" x2="2326.5" y2="1334.4" stroke="#ebebeb" stroke-width="1.5"/>
<line x1="1651.5" y1="1364.4" x2="2326.5" y2="1364.4" stroke="#ebebeb" stroke-width="1.5"/>
<polygon points="2287.65,788.36 2304.75,788.36 2296.20,803.17" fill="rgb(205, 70, 95)"/>
<polygon points="1997.70,819.26 2011.90,819.26 2004.80,831.56" fill="rgb(200, 70, 90)"/>
<polygon points="1746.20,847.82 1765.60,847.82 1755.90,864.62" fill="rgb(185, 100, 120)"/>
<polygon points="1742.60,878.05 1761.40,878.05 1752.00,894.33" fill="rgb(190, 95, 115)"/>
<polygon points="1936.90,910.42 1947.70,910.42 1942.30,919.78" fill="rgb(185, 85, 105)"/>
<polygon points="1856.55,939.93 1869.25,939.93 1862.90,950.93" fill="rgb(170, 110, 125)"/>
<polygon points="1803.75,969.94 1816.65,969.94 1810.20,981.11" fill="rgb(175, 110, 125)"/>
<polygon points="1851.35,1000.52 1862.45,1000.52 1856.90,1010.13" fill="rgb(120, 150, 165)"/>
<polygon points="2104.85,1031.67 2112.15,1031.67 2108.50,1037.99" fill="rgb(60, 170, 190)"/>
<polygon points="1701.60,1058.30 1720.80,1058.30 1711.20,1074.92" fill="rgb(55, 185, 205)"/>
<polygon points="1740.35,1089.19 1756.65,1089.19 1748.50,1103.31" fill="rgb(60, 175, 200)"/>
<polygon points="1953.70,1121.71 1961.50,1121.71 1957.60,1128.46" fill="rgb(130, 170, 40)"/>
<polygon points="2099.05,1152.89 2102.95,1152.89 2101.00,1156.27" fill="rgb(120, 125, 110)"/>
<polygon points="1830.90,1181.25 1840.70,1181.25 1835.80,1189.74" fill="rgb(125, 160, 40)"/>
<polygon points="1870.85,1211.57 1879.75,1211.57 1875.30,1219.28" fill="rgb(125, 160, 40)"/>
<polygon points="1793.80,1241.26 1804.00,1241.26 1798.90,1250.09" fill="rgb(120, 150, 70)"/>
<polygon points="1799.35,1271.69 1808.25,1271.69 1803.80,1279.40" fill="rgb(100, 130, 100)"/>
<polygon points="1734.95,1300.83 1747.05,1300.83 1741.00,1311.31" fill="rgb(110, 140, 110)"/>
<polygon points="1670.25,1327.77 1693.15,1327.77 1681.70,1347.60" fill="rgb(110, 145, 110)"/>
<polygon points="1931.00,1363.23 1935.20,1363.23 1933.10,1366.86" fill="rgb(40, 80, 130)"/>
<rect x="1651.5" y="776.4" width="675.0" height="605.8000000000001" fill="none" stroke="#111" stroke-width="1.8"/>
<line x1="1647.9" y1="793.3" x2="1651.5" y2="793.3" stroke="#111" stroke-width="1.5"/>
<text x="1644.0" y="799.5" font-size="22.5" text-anchor="end" font-weight="normal" fill="#111" font-family="'Liberation Sans', Arial, Helvetica, sans-serif" >Flavonoid biosynthesis</text>
<line x1="1647.9" y1="823.4" x2="1651.5" y2="823.4" stroke="#111" stroke-width="1.5"/>
<text x="1646.4" y="829.6" font-size="22.5" text-anchor="end" font-weight="normal" fill="#111" font-family="'Liberation Sans', Arial, Helvetica, sans-serif" >alpha−Linolenic acid metabolism</text>
<line x1="1647.9" y1="853.4" x2="1651.5" y2="853.4" stroke="#111" stroke-width="1.5"/>
<text x="1643.5" y="859.7" font-size="22.5" text-anchor="end" font-weight="normal" fill="#111" font-family="'Liberation Sans', Arial, Helvetica, sans-serif" >Phenylpropanoid biosynthesis</text>
<line x1="1647.9" y1="883.5" x2="1651.5" y2="883.5" stroke="#111" stroke-width="1.5"/>
<text x="1644.0" y="889.9" font-size="22.5" text-anchor="end" font-weight="normal" fill="#111" font-family="'Liberation Sans', Arial, Helvetica, sans-serif" >Biosynthesis of amino acids</text>
<line x1="1647.9" y1="913.5" x2="1651.5" y2="913.5" stroke="#111" stroke-width="1.5"/>
<text x="1644.0" y="920.0" font-size="22.5" text-anchor="end" font-weight="normal" fill="#111" font-family="'Liberation Sans', Arial, Helvetica, sans-serif" >Sesquiterpenoid and triterpenoid biosynthesis</text>
<line x1="1647.9" y1="943.6" x2="1651.5" y2="943.6" stroke="#111" stroke-width="1.5"/>
<text x="1644.0" y="950.1" font-size="22.5" text-anchor="end" font-weight="normal" fill="#111" font-family="'Liberation Sans', Arial, Helvetica, sans-serif" >Glycine, serine and threonine metabolism</text>
<line x1="1647.9" y1="973.7" x2="1651.5" y2="973.7" stroke="#111" stroke-width="1.5"/>
<text x="1644.0" y="980.2" font-size="22.5" text-anchor="end" font-weight="normal" fill="#111" font-family="'Liberation Sans', Arial, Helvetica, sans-serif" >Cysteine and methionine metabolism</text>
<line x1="1647.9" y1="1003.7" x2="1651.5" y2="1003.7" stroke="#111" stroke-width="1.5"/>
<text x="1645.2" y="1010.4" font-size="22.5" text-anchor="end" font-weight="normal" fill="#111" font-family="'Liberation Sans', Arial, Helvetica, sans-serif" >Valine, leucine and isoleucine degradation</text>
<line x1="1647.9" y1="1033.8" x2="1651.5" y2="1033.8" stroke="#111" stroke-width="1.5"/>
<text x="1645.2" y="1040.5" font-size="22.5" text-anchor="end" font-weight="normal" fill="#111" font-family="'Liberation Sans', Arial, Helvetica, sans-serif" >Linoleic acid metabolism</text>
<line x1="1647.9" y1="1063.8" x2="1651.5" y2="1063.8" stroke="#111" stroke-width="1.5"/>
<text x="1644.0" y="1070.6" font-size="22.5" text-anchor="end" font-weight="normal" fill="#111" font-family="'Liberation Sans', Arial, Helvetica, sans-serif" >MAPK signaling pathway − plant</text>
<line x1="1647.9" y1="1093.9" x2="1651.5" y2="1093.9" stroke="#111" stroke-width="1.5"/>
<text x="1644.0" y="1100.7" font-size="22.5" text-anchor="end" font-weight="normal" fill="#111" font-family="'Liberation Sans', Arial, Helvetica, sans-serif" >Amino sugar and nucleotide sugar metabolism</text>
<line x1="1647.9" y1="1124.0" x2="1651.5" y2="1124.0" stroke="#111" stroke-width="1.5"/>
<text x="1644.0" y="1130.9" font-size="22.5" text-anchor="end" font-weight="normal" fill="#111" font-family="'Liberation Sans', Arial, Helvetica, sans-serif" >Valine, leucine and isoleucine biosynthesis</text>
<line x1="1647.9" y1="1154.0" x2="1651.5" y2="1154.0" stroke="#111" stroke-width="1.5"/>
<text x="1644.0" y="1161.0" font-size="22.5" text-anchor="end" font-weight="normal" fill="#111" font-family="'Liberation Sans', Arial, Helvetica, sans-serif" >Benzoxazinoid biosynthesis</text>
<line x1="1647.9" y1="1184.1" x2="1651.5" y2="1184.1" stroke="#111" stroke-width="1.5"/>
<text x="1641.6" y="1191.1" font-size="22.5" text-anchor="end" font-weight="normal" fill="#111" font-family="'Liberation Sans', Arial, Helvetica, sans-serif" >Phenylalanine, tyrosine and tryptophan biosynthesis</text>
<line x1="1647.9" y1="1214.1" x2="1651.5" y2="1214.1" stroke="#111" stroke-width="1.5"/>
<text x="1644.0" y="1221.2" font-size="22.5" text-anchor="end" font-weight="normal" fill="#111" font-family="'Liberation Sans', Arial, Helvetica, sans-serif" >Arachidonic acid metabolism</text>
<line x1="1647.9" y1="1244.2" x2="1651.5" y2="1244.2" stroke="#111" stroke-width="1.5"/>
<text x="1644.0" y="1251.3" font-size="22.5" text-anchor="end" font-weight="normal" fill="#111" font-family="'Liberation Sans', Arial, Helvetica, sans-serif" >Terpenoid backbone biosynthesis</text>
<line x1="1647.9" y1="1274.3" x2="1651.5" y2="1274.3" stroke="#111" stroke-width="1.5"/>
<text x="1644.7" y="1281.5" font-size="22.5" text-anchor="end" font-weight="normal" fill="#111" font-family="'Liberation Sans', Arial, Helvetica, sans-serif" >Ubiquinone and other terpenoid−quinone biosynthesis</text>
<line x1="1647.9" y1="1304.3" x2="1651.5" y2="1304.3" stroke="#111" stroke-width="1.5"/>
<text x="1644.7" y="1311.6" font-size="22.5" text-anchor="end" font-weight="normal" fill="#111" font-family="'Liberation Sans', Arial, Helvetica, sans-serif" >Ribosome biogenesis in eukaryotes</text>
<line x1="1647.9" y1="1334.4" x2="1651.5" y2="1334.4" stroke="#111" stroke-width="1.5"/>
<text x="1644.0" y="1341.7" font-size="22.5" text-anchor="end" font-weight="normal" fill="#111" font-family="'Liberation Sans', Arial, Helvetica, sans-serif" >Plant hormone signal transduction</text>
<line x1="1647.9" y1="1364.4" x2="1651.5" y2="1364.4" stroke="#111" stroke-width="1.5"/>
<text x="1644.0" y="1371.8" font-size="22.5" text-anchor="end" font-weight="normal" fill="#111" font-family="'Liberation Sans', Arial, Helvetica, sans-serif" >Glucosinolate biosynthesis</text>
<line x1="1767.2" y1="1382.2" x2="1767.2" y2="1385.8" stroke="#111" stroke-width="1.5"/>
<text x="1768.0" y="1409.8" font-size="22.8" text-anchor="middle" font-weight="normal" fill="#111" font-family="'Liberation Sans', Arial, Helvetica, sans-serif" >2</text>
<line x1="1890.3" y1="1382.2" x2="1890.3" y2="1385.8" stroke="#111" stroke-width="1.5"/>
<text x="1887.9" y="1409.8" font-size="22.8" text-anchor="middle" font-weight="normal" fill="#111" font-family="'Liberation Sans', Arial, Helvetica, sans-serif" >3</text>
<line x1="2013.4" y1="1382.2" x2="2013.4" y2="1385.8" stroke="#111" stroke-width="1.5"/>
<text x="2013.7" y="1409.8" font-size="22.8" text-anchor="middle" font-weight="normal" fill="#111" font-family="'Liberation Sans', Arial, Helvetica, sans-serif" >4</text>
<line x1="2136.5" y1="1382.2" x2="2136.5" y2="1385.8" stroke="#111" stroke-width="1.5"/>
<text x="2139.9" y="1409.8" font-size="22.8" text-anchor="middle" font-weight="normal" fill="#111" font-family="'Liberation Sans', Arial, Helvetica, sans-serif" >5</text>
<line x1="2259.6" y1="1382.2" x2="2259.6" y2="1385.8" stroke="#111" stroke-width="1.5"/>
<text x="2259.0" y="1409.8" font-size="22.8" text-anchor="middle" font-weight="normal" fill="#111" font-family="'Liberation Sans', Arial, Helvetica, sans-serif" >6</text>
<text x="1660.1" y="759.8" font-size="22.7" text-anchor="start" font-weight="bold" fill="#000" font-family="'Liberation Sans', Arial, Helvetica, sans-serif" >Down-regulated genes</text>
<text x="1961.1" y="1434.6" font-size="22.5" text-anchor="start" font-weight="bold" fill="#000" font-family="'Liberation Sans', Arial, Helvetica, sans-serif" >Rich factor</text>
<rect x="1292.4" y="1319.3" width="353.39999999999986" height="29.100000000000136" fill="none" stroke="#c0102a" stroke-width="2.1" stroke-dasharray="2.4 2.4"/>
<defs><linearGradient id="qg" x1="0" y1="1" x2="0" y2="0"><stop offset="0.000" stop-color="rgb(210, 72, 98)"/><stop offset="0.042" stop-color="rgb(202, 91, 111)"/><stop offset="0.083" stop-color="rgb(193, 108, 125)"/><stop offset="0.125" stop-color="rgb(182, 122, 139)"/><stop offset="0.167" stop-color="rgb(168, 136, 153)"/><stop offset="0.208" stop-color="rgb(152, 149, 167)"/><stop offset="0.250" stop-color="rgb(131, 161, 182)"/><stop offset="0.292" stop-color="rgb(103, 173, 197)"/><stop offset="0.333" stop-color="rgb(52, 184, 212)"/><stop offset="0.375" stop-color="rgb(82, 184, 192)"/><stop offset="0.417" stop-color="rgb(100, 183, 172)"/><stop offset="0.458" stop-color="rgb(112, 183, 152)"/><stop offset="0.500" stop-color="rgb(121, 183, 132)"/><stop offset="0.542" stop-color="rgb(127, 183, 112)"/><stop offset="0.583" stop-color="rgb(131, 184, 90)"/><stop offset="0.625" stop-color="rgb(134, 184, 66)"/><stop offset="0.667" stop-color="rgb(136, 184, 36)"/><stop offset="0.708" stop-color="rgb(133, 174, 67)"/><stop offset="0.750" stop-color="rgb(129, 164, 90)"/><stop offset="0.792" stop-color="rgb(123, 154, 109)"/><stop offset="0.833" stop-color="rgb(115, 144, 128)"/><stop offset="0.875" stop-color="rgb(105, 135, 145)"/><stop offset="0.917" stop-color="rgb(90, 125, 162)"/><stop offset="0.958" stop-color="rgb(67, 117, 179)"/><stop offset="1.000" stop-color="rgb(16, 108, 196)"/></linearGradient></defs>
<text x="2348.0" y="181.5" font-size="15.4" text-anchor="start" font-weight="bold" fill="#111" font-family="'Liberation Sans', Arial, Helvetica, sans-serif" >qvalue</text>
<rect x="2348.0" y="191.5" width="22.800000000000182" height="113.5" fill="url(#qg)"/>
<line x1="2348.0" y1="203.3" x2="2352.5" y2="203.3" stroke="#fff" stroke-width="1"/>
<line x1="2366.3" y1="203.3" x2="2370.8" y2="203.3" stroke="#fff" stroke-width="1"/>
<text x="2379.0" y="208.9" font-size="15" text-anchor="start" font-weight="normal" fill="#222" font-family="'Liberation Sans', Arial, Helvetica, sans-serif" >0.4</text>
<line x1="2348.0" y1="228.5" x2="2352.5" y2="228.5" stroke="#fff" stroke-width="1"/>
<line x1="2366.3" y1="228.5" x2="2370.8" y2="228.5" stroke="#fff" stroke-width="1"/>
<text x="2379.0" y="234.1" font-size="15" text-anchor="start" font-weight="normal" fill="#222" font-family="'Liberation Sans', Arial, Helvetica, sans-serif" >0.3</text>
<line x1="2348.0" y1="253.2" x2="2352.5" y2="253.2" stroke="#fff" stroke-width="1"/>
<line x1="2366.3" y1="253.2" x2="2370.8" y2="253.2" stroke="#fff" stroke-width="1"/>
<text x="2379.0" y="258.8" font-size="15" text-anchor="start" font-weight="normal" fill="#222" font-family="'Liberation Sans', Arial, Helvetica, sans-serif" >0.2</text>
<line x1="2348.0" y1="278.5" x2="2352.5" y2="278.5" stroke="#fff" stroke-width="1"/>
<line x1="2366.3" y1="278.5" x2="2370.8" y2="278.5" stroke="#fff" stroke-width="1"/>
<text x="2379.0" y="284.1" font-size="15" text-anchor="start" font-weight="normal" fill="#222" font-family="'Liberation Sans', Arial, Helvetica, sans-serif" >0.1</text>
<text x="2348.0" y="348.6" font-size="15.9" text-anchor="start" font-weight="bold" fill="#111" font-family="'Liberation Sans', Arial, Helvetica, sans-serif" >gene_number</text>
<circle cx="2359.7" cy="369.4" r="5.6" fill="#000"/>
<text x="2379.0" y="375.0" font-size="14.8" text-anchor="start" font-weight="normal" fill="#222" font-family="'Liberation Sans', Arial, Helvetica, sans-serif" >10</text>
<circle cx="2359.7" cy="392.3" r="6.9" fill="#000"/>
<text x="2379.0" y="397.9" font-size="14.8" text-anchor="start" font-weight="normal" fill="#222" font-family="'Liberation Sans', Arial, Helvetica, sans-serif" >20</text>
<circle cx="2359.7" cy="415.4" r="7.9" fill="#000"/>
<text x="2379.0" y="421.0" font-size="14.8" text-anchor="start" font-weight="normal" fill="#222" font-family="'Liberation Sans', Arial, Helvetica, sans-serif" >30</text>
<circle cx="2359.7" cy="438.3" r="8.8" fill="#000"/>
<text x="2379.0" y="443.9" font-size="14.8" text-anchor="start" font-weight="normal" fill="#222" font-family="'Liberation Sans', Arial, Helvetica, sans-serif" >40</text>
<text x="2348.0" y="491.7" font-size="15" text-anchor="start" font-weight="bold" fill="#111" font-family="'Liberation Sans', Arial, Helvetica, sans-serif" >Diff</text>
<polygon points="2359.70,509.40 2363.12,515.16 2356.28,515.16" fill="none" stroke="#111" stroke-width="1.1"/>
<text x="2379.0" y="518.5" font-size="14.8" text-anchor="start" font-weight="normal" fill="#222" font-family="'Liberation Sans', Arial, Helvetica, sans-serif" >up</text>
<text x="2349.2" y="912.1" font-size="15.4" text-anchor="start" font-weight="bold" fill="#111" font-family="'Liberation Sans', Arial, Helvetica, sans-serif" >qvalue</text>
<rect x="2349.2" y="922.0" width="22.700000000000273" height="115.70000000000005" fill="url(#qg)"/>
<line x1="2349.2" y1="960.5" x2="2353.7" y2="960.5" stroke="#fff" stroke-width="1"/>
<line x1="2367.4" y1="960.5" x2="2371.9" y2="960.5" stroke="#fff" stroke-width="1"/>
<text x="2380.0" y="966.1" font-size="15" text-anchor="start" font-weight="normal" fill="#222" font-family="'Liberation Sans', Arial, Helvetica, sans-serif" >0.2</text>
<line x1="2349.2" y1="997.2" x2="2353.7" y2="997.2" stroke="#fff" stroke-width="1"/>
<line x1="2367.4" y1="997.2" x2="2371.9" y2="997.2" stroke="#fff" stroke-width="1"/>
<text x="2380.0" y="1002.8" font-size="15" text-anchor="start" font-weight="normal" fill="#222" font-family="'Liberation Sans', Arial, Helvetica, sans-serif" >0.1</text>
<text x="2349.2" y="1080.9" font-size="15.9" text-anchor="start" font-weight="bold" fill="#111" font-family="'Liberation Sans', Arial, Helvetica, sans-serif" >gene_number</text>
<circle cx="2360.6" cy="1102.4" r="5.6" fill="#000"/>
<text x="2380.0" y="1108.0" font-size="14.8" text-anchor="start" font-weight="normal" fill="#222" font-family="'Liberation Sans', Arial, Helvetica, sans-serif" >10</text>
<circle cx="2360.6" cy="1125.8" r="6.9" fill="#000"/>
<text x="2380.0" y="1131.4" font-size="14.8" text-anchor="start" font-weight="normal" fill="#222" font-family="'Liberation Sans', Arial, Helvetica, sans-serif" >20</text>
<circle cx="2360.6" cy="1149.0" r="7.9" fill="#000"/>
<text x="2380.0" y="1154.6" font-size="14.8" text-anchor="start" font-weight="normal" fill="#222" font-family="'Liberation Sans', Arial, Helvetica, sans-serif" >30</text>
<circle cx="2360.6" cy="1172.0" r="8.8" fill="#000"/>
<text x="2380.0" y="1177.6" font-size="14.8" text-anchor="start" font-weight="normal" fill="#222" font-family="'Liberation Sans', Arial, Helvetica, sans-serif" >40</text>
<text x="2349.2" y="1226.3" font-size="15" text-anchor="start" font-weight="bold" fill="#111" font-family="'Liberation Sans', Arial, Helvetica, sans-serif" >Diff</text>
<polygon points="2357.18,1246.44 2364.02,1246.44 2360.60,1252.20" fill="none" stroke="#111" stroke-width="1.1"/>
<text x="2380.0" y="1253.8" font-size="14.8" text-anchor="start" font-weight="normal" fill="#222" font-family="'Liberation Sans', Arial, Helvetica, sans-serif" >down</text>
</svg></body></html>
